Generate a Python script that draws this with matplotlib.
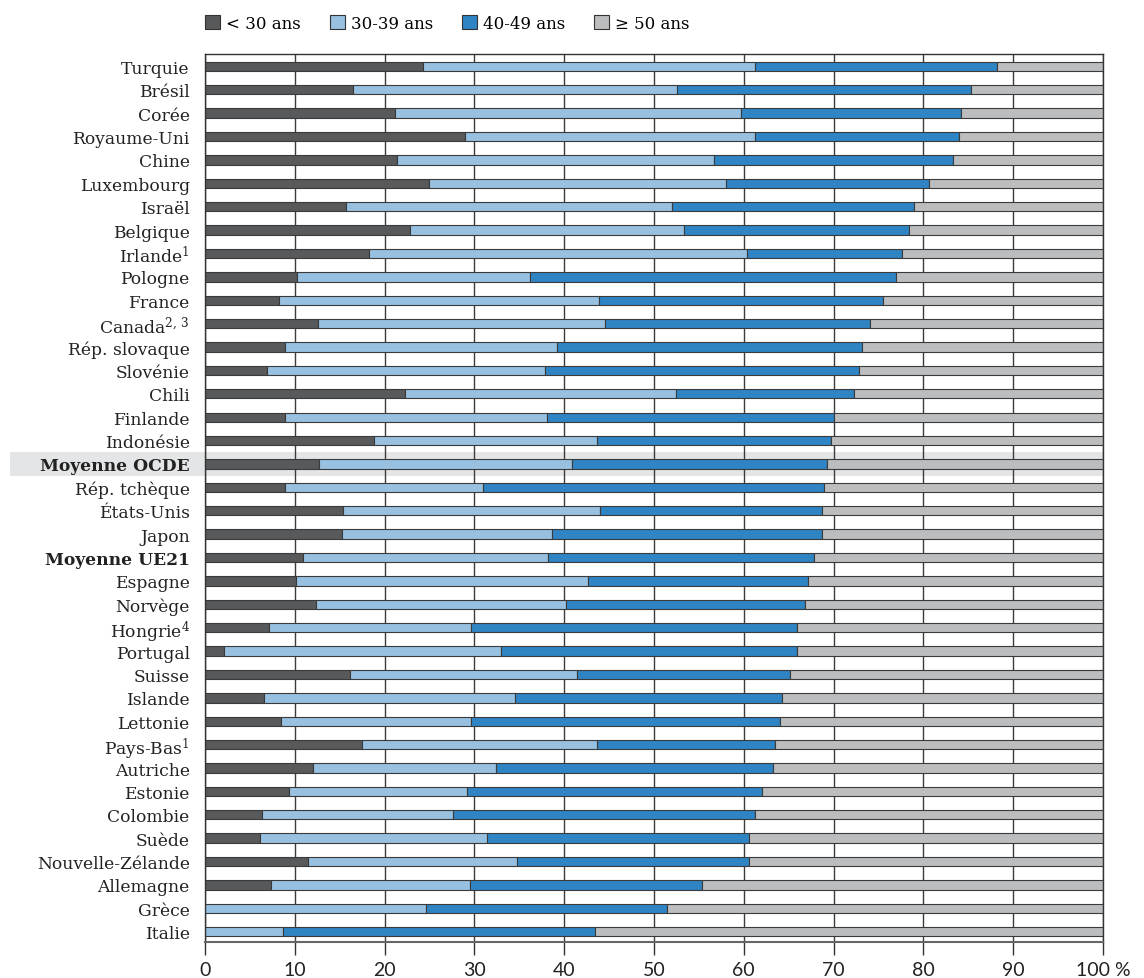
import matplotlib
matplotlib.use("Agg")
import numpy as np
import matplotlib.pyplot as plt
from matplotlib.patches import Patch
from matplotlib.transforms import ScaledTranslation

countries = ["Turquie", "Brésil", "Corée", "Royaume-Uni", "Chine", "Luxembourg",
             "Israël", "Belgique", r"Irlande$^{1}$", "Pologne", "France",
             r"Canada$^{2,\,3}$", "Rép. slovaque", "Slovénie", "Chili", "Finlande",
             "Indonésie", "Moyenne OCDE", "Rép. tchèque", "États-Unis", "Japon",
             "Moyenne UE21", "Espagne", "Norvège", r"Hongrie$^{4}$", "Portugal",
             "Suisse", "Islande", "Lettonie", r"Pays-Bas$^{1}$", "Autriche",
             "Estonie", "Colombie", "Suède", "Nouvelle-Zélande", "Allemagne",
             "Grèce", "Italie"]

under_30 = [24.3, 16.5, 21.2, 28.9, 21.4, 24.9, 15.7, 22.8, 18.3, 10.2, 8.2, 12.6,
            8.9, 6.9, 22.3, 8.9, 18.8, 12.7, 8.9, 15.4, 15.3, 10.9, 10.1, 12.4,
            7.1, 2.1, 16.1, 6.6, 8.5, 17.5, 12.0, 9.3, 6.3, 6.1, 11.5, 7.4, 0.0, 0.0]
age_30_39 = [36.9, 36.1, 38.5, 32.3, 35.3, 33.1, 36.3, 30.5, 42.1, 26.0, 35.7, 31.9,
             30.3, 31.0, 30.1, 29.2, 24.8, 28.2, 22.1, 28.6, 23.3, 27.3, 32.6, 27.8,
             22.5, 30.9, 25.3, 27.9, 21.1, 26.1, 20.4, 19.9, 21.3, 25.3, 23.2, 22.1,
             24.6, 8.7]
age_40_49 = [27.0, 32.7, 24.5, 22.8, 26.6, 22.6, 26.9, 25.1, 17.2, 40.7, 31.6, 29.5,
             34.0, 34.9, 19.9, 32.0, 26.1, 28.4, 37.9, 24.7, 30.1, 29.6, 24.5, 26.6,
             36.3, 32.9, 23.7, 29.7, 34.4, 19.9, 30.8, 32.8, 33.6, 29.2, 25.9, 25.8,
             26.9, 34.7]
over_50 = [11.8, 14.7, 15.8, 16.0, 16.7, 19.4, 21.1, 21.6, 22.4, 23.1, 24.5, 26.0,
           26.8, 27.2, 27.7, 29.9, 30.3, 30.7, 31.1, 31.3, 31.3, 32.2, 32.8, 33.2,
           34.1, 34.1, 34.9, 35.8, 36.0, 36.5, 36.8, 38.0, 38.8, 39.4, 39.4, 44.7,
           48.5, 56.6]

series = [under_30, age_30_39, age_40_49, over_50]
labels = ["< 30 ans", "30-39 ans", "40-49 ans", "≥ 50 ans"]
colors = ["#58595b", "#97c0e1", "#2f84c4", "#bcbdbf"]
bold_rows = ["Moyenne OCDE", "Moyenne UE21"]

plt.rcParams['mathtext.fontset'] = 'dejavuserif'
serif = "DejaVu Serif"

fig = plt.figure(figsize=(11.44, 9.79), dpi=100)
ax = fig.add_axes([205 / 1144, 1 - 943 / 979, 898 / 1144, 888 / 979])

y = np.arange(len(countries))
left = np.zeros(len(countries))
for vals, col in zip(series, colors):
    vals = np.array(vals)
    ax.barh(y, vals, left=left, height=0.40, color=col,
            edgecolor="#3a3a3a", linewidth=0.8, zorder=2)
    left += vals

# highlight band behind OECD average
i_oecd = countries.index("Moyenne OCDE")
band = ax.axhspan(i_oecd - 0.5, i_oecd + 0.5, xmin=(10 - 205) / 898, xmax=1,
                  color="#e4e5e6", zorder=0.1, linewidth=0)
band.set_clip_on(False)

ax.set_xlim(0, 100)
ax.set_ylim(len(countries) - 1 + 0.44, -0.53)
ticks = list(range(0, 101, 10))
ax.set_xticks(ticks)
ax.set_xticklabels([str(v) for v in ticks[:-1]] + ["100 %"], family="Lato",
                   fontsize=14, color="#222222")
last = ax.get_xticklabels()[-1]
last.set_transform(last.get_transform() + ScaledTranslation(0.14, 0, fig.dpi_scale_trans))

ax.set_yticks(y)
ax.set_yticklabels(countries, family=serif, fontsize=12.3, color="#222222")
for t in ax.get_yticklabels():
    if t.get_text() in bold_rows:
        t.set_fontweight("bold")

ax.tick_params(axis="y", length=0, pad=11)
ax.tick_params(axis="x", length=9, width=1, color="#333333", pad=4.5)
ax.grid(axis="x", color="#3c3c3c", linewidth=1)
ax.set_axisbelow(True)
for s in ax.spines.values():
    s.set_color("#333333")
    s.set_linewidth(1)
ax.spines["bottom"].set_color("#666666")
ax.spines["bottom"].set_linewidth(1.5)

handles = [Patch(facecolor=c, edgecolor="#333333", linewidth=0.8) for c in colors]
fig.legend(handles, labels, loc="upper left", bbox_to_anchor=(190 / 1144, 1 - 1 / 979),
           ncol=4, frameon=False, handlelength=0.9, handleheight=0.9,
           handletextpad=0.35, columnspacing=1.75, prop={"family": serif, "size": 12})

fig.savefig("out.png", dpi=100)
